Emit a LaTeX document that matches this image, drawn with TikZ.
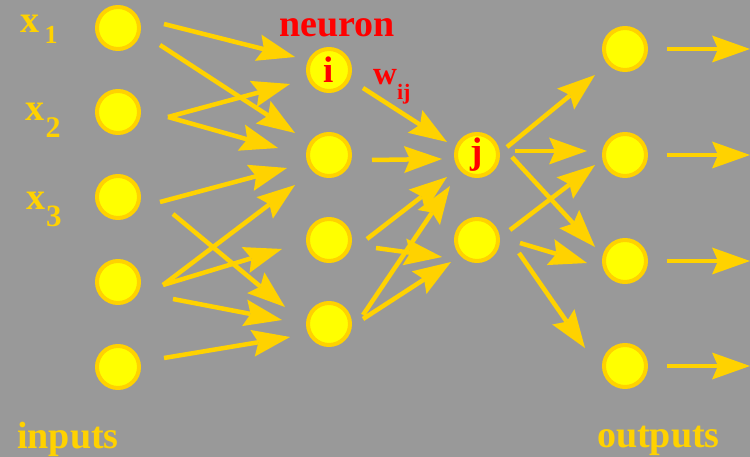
\documentclass[tikz,border=0pt]{standalone}
\usepackage{fontspec}
\setmainfont{Liberation Serif}
\usetikzlibrary{arrows.meta}
\definecolor{bg}{RGB}{153,153,153}
\definecolor{gold}{RGB}{255,210,0}
\definecolor{yel}{RGB}{255,255,0}
\definecolor{lblred}{RGB}{255,0,0}
\begin{document}
\begin{tikzpicture}[x=1pt,y=-1pt,
  neuron/.style={circle, draw=gold, fill=yel, line width=4pt, minimum size=42pt, inner sep=0pt, text=lblred, font=\fontsize{37}{37}\selectfont\bfseries},
  conn/.style={draw=gold, line width=4.5pt, -{Stealth[length=38pt,width=27pt,inset=6pt,line width=0pt]}},
  goldtxt/.style={text=gold, inner sep=0pt, anchor=base west, font=\fontsize{38}{40}\selectfont\bfseries},
  redtxt/.style={text=lblred, inner sep=0pt, anchor=base west, font=\fontsize{38}{40}\selectfont\bfseries}
  ]
\fill[bg] (0,0) rectangle (750,457);
\useasboundingbox (0,0) rectangle (750,457);
% neurons
\node[neuron] (in1) at (118,28) {};
\node[neuron] (in2) at (118,112) {};
\node[neuron] (in3) at (118,197) {};
\node[neuron] (in4) at (118,282) {};
\node[neuron] (in5) at (118,367) {};
\node[neuron] (h1) at (329,70) {i};
\node[neuron] (h2) at (329,155) {};
\node[neuron] (h3) at (329,240) {};
\node[neuron] (h4) at (329,324) {};
\node[neuron] (j1) at (477,155) {j};
\node[neuron] (j2) at (477,240) {};
\node[neuron] (o1) at (625,49) {};
\node[neuron] (o2) at (625,155) {};
\node[neuron] (o3) at (625,261) {};
\node[neuron] (o4) at (625,366) {};
% labels
\node[goldtxt] (lin) at (17,448) {inputs};
\node[goldtxt] (lout) at (597,447) {outputs};
\node[redtxt] (lneu) at (279,37) {neuron};
\node[goldtxt] (x1) at (20,33) {x\kern5.5pt\raisebox{-11pt}{\fontsize{26}{26}\selectfont 1}};
\node[goldtxt] (x2) at (25,121) {x\kern1.5pt\raisebox{-17pt}{\fontsize{30}{30}\selectfont 2}};
\node[goldtxt] (x3) at (26,210) {x\kern1pt\raisebox{-17pt}{\fontsize{31}{31}\selectfont 3}};
\node[redtxt] (w) at (373,85) {\fontsize{33}{33}\selectfont w\raisebox{-15pt}{\fontsize{22}{22}\selectfont ij}};
% input -> hidden
\draw[conn] ([shift={(46,-4)}]in1.center) -- ([shift={(-34,-13)}]h1.center);
\draw[conn] ([shift={(42,17)}]in1.center) -- ([shift={(-34,-22)}]h2.center);
\draw[conn] ([shift={(50,5)}]in2.center) -- ([shift={(-39,14)}]h1.center);
\draw[conn] ([shift={(50,5)}]in2.center) -- ([shift={(-51,-7)}]h2.center);
\draw[conn] ([shift={(42,5)}]in3.center) -- ([shift={(-42,13)}]h2.center);
\draw[conn] ([shift={(55,17)}]in3.center) -- ([shift={(-44,-17)}]h4.center);
\draw[conn] ([shift={(45,3)}]in4.center) -- ([shift={(-34,30)}]h2.center);
\draw[conn] ([shift={(45,3)}]in4.center) -- ([shift={(-47,9)}]h3.center);
\draw[conn] ([shift={(55,17)}]in4.center) -- ([shift={(-47,-4)}]h4.center);
\draw[conn] ([shift={(46,-9)}]in5.center) -- ([shift={(-39,13)}]h4.center);
% hidden -> second layer
\draw[conn] ([shift={(34,18)}]h1.center) -- ([shift={(-30,-13)}]j1.center);
\draw[conn] ([shift={(43,5)}]h2.center) -- ([shift={(-35,4)}]j1.center);
\draw[conn] ([shift={(38,-1)}]h3.center) -- ([shift={(-30,22)}]j1.center);
\draw[conn] ([shift={(34,-9)}]h4.center) -- ([shift={(-27,31)}]j1.center);
\draw[conn] ([shift={(47,8)}]h3.center) -- ([shift={(-35,17)}]j2.center);
\draw[conn] ([shift={(34,-5)}]h4.center) -- ([shift={(-26,22)}]j2.center);
% second layer -> outputs
\draw[conn] ([shift={(30,-8)}]j1.center) -- ([shift={(-30,26)}]o1.center);
\draw[conn] ([shift={(38,-4)}]j1.center) -- ([shift={(-38,-4)}]o2.center);
\draw[conn] ([shift={(35,2)}]j1.center) -- ([shift={(-30,-14)}]o3.center);
\draw[conn] ([shift={(33,-10)}]j2.center) -- ([shift={(-30,10)}]o2.center);
\draw[conn] ([shift={(43,3)}]j2.center) -- ([shift={(-38,2)}]o3.center);
\draw[conn] ([shift={(42,13)}]j2.center) -- ([shift={(-40,-18)}]o4.center);
% outputs
\coordinate (e1) at (750,49);
\coordinate (e2) at (750,155);
\coordinate (e3) at (750,261);
\coordinate (e4) at (750,366);
\draw[conn] ([shift={(42,0)}]o1.center) -- (e1);
\draw[conn] ([shift={(42,0)}]o2.center) -- (e2);
\draw[conn] ([shift={(42,0)}]o3.center) -- (e3);
\draw[conn] ([shift={(42,0)}]o4.center) -- (e4);
\end{tikzpicture}
\end{document}
